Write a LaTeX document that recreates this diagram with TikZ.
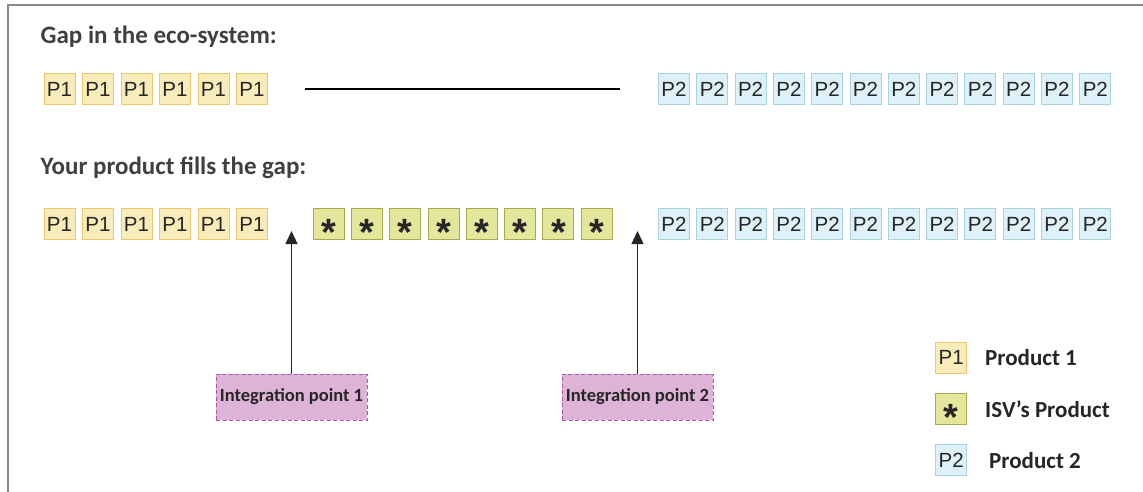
\documentclass[tikz,border=0pt]{standalone}
\usepackage{fontspec}
\setmainfont{Liberation Sans}
\newfontfamily\calibri{Carlito}
\usepackage{xcolor}
\usepackage{tikz}
\usetikzlibrary{arrows.meta,positioning}

\definecolor{poneFill}{HTML}{F8ECBA}
\definecolor{poneLine}{HTML}{EFC66E}
\definecolor{ptwoFill}{HTML}{DFF1F8}
\definecolor{ptwoLine}{HTML}{A8D3DD}
\definecolor{isvFill}{HTML}{E3E79C}
\definecolor{isvLine}{HTML}{A9A94E}
\definecolor{intFill}{HTML}{DDB4D8}
\definecolor{intLine}{HTML}{AA5AA2}
\definecolor{frameGrey}{HTML}{8C8888}

\begin{document}
\begin{tikzpicture}[x=1pt,y=-1pt,
    box/.style={draw, line width=1pt, minimum width=31pt, minimum height=31pt, inner sep=0pt, text=black!85, font=\fontsize{20.5}{24}\selectfont},
    pone/.style={box, fill=poneFill, draw=poneLine},
    ptwo/.style={box, fill=ptwoFill, draw=ptwoLine},
    isv/.style={box, fill=isvFill, draw=isvLine, font=\fontsize{38}{40}\selectfont\bfseries},
    intbox/.style={draw=intLine, fill=intFill, dash pattern=on 4pt off 2.5pt, line width=0.9pt, minimum width=151pt, minimum height=46pt, inner sep=0pt, text=black!85, font=\calibri\bfseries\fontsize{18.5}{22}\selectfont},
    heading/.style={inner sep=0pt, anchor=base west, text=black!75, font=\calibri\bfseries\fontsize{25}{30}\selectfont},
    legend/.style={inner sep=0pt, anchor=west, text=black!85, font=\calibri\bfseries\fontsize{23}{28}\selectfont}]
    \useasboundingbox (0,0) rectangle (1143,492);
    \draw[frameGrey, line width=2pt] (7.5,492) -- (7.5,5.5) -- (1143,5.5);

    \node (gaphead) [heading] at (40.5,43.3) {Gap in the eco-system:};
    \node (fillhead) [heading] at (40.5,174.5) {Your product fills the gap:};

    % first row: the gap
    \foreach \i in {0,...,5}
        \node (ga\i) [pone] at ({59.5+38.5*\i},89.5) {P1};
    \foreach \i in {0,...,11}
        \node (gb\i) [ptwo] at ({674+38.3*\i},89.5) {P2};
    \coordinate (gapl) at (305,89);
    \coordinate (gapr) at (620,89);
    \draw[line width=1.2pt] (gapl) -- (gapr);

    % second row: gap filled
    \foreach \i in {0,...,5}
        \node (fa\i) [pone] at ({59.5+38.5*\i},224) {P1};
    \foreach \i in {0,...,7}
        \node (fs\i) [isv] at ({328.6+38.3*\i},224) {\smash{\raisebox{-0.56em}{*}}};
    \foreach \i in {0,...,11}
        \node (fb\i) [ptwo] at ({674+38.3*\i},224) {P2};

    \node (intone) [intbox] at (291.5,397) {Integration point 1};
    \node (inttwo) [intbox] at (637.5,397) {Integration point 2};
    \coordinate (tipone) at (291.5,231);
    \coordinate (tiptwo) at (637.5,231);
    \draw[-{Triangle[width=12pt,length=13pt]}, line width=1.3pt, black!85] (intone) -- (tipone);
    \draw[-{Triangle[width=12pt,length=13pt]}, line width=1.3pt, black!85] (inttwo) -- (tiptwo);

    % legend
    \node (keyone) [pone] at (951.2,357.5) {P1};
    \node (keyisv) [isv] at (951.2,408.8) {\smash{\raisebox{-0.56em}{*}}};
    \node (keytwo) [ptwo] at (951.2,460.3) {P2};
    \node (txtone) [legend] at (985,358) {Product 1};
    \node (txtisv) [legend] at (985,409) {ISV’s Product};
    \node (txttwo) [legend] at (989,461) {Product 2};
\end{tikzpicture}
\end{document}
